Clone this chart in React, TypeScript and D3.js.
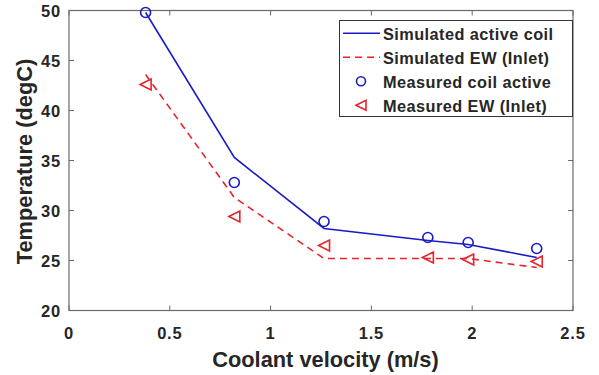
import React from "react";
import * as d3 from "d3";

const velocity = [0.38, 0.82, 1.265, 1.78, 1.98, 2.32];
const simActive = [49.8, 35.3, 28.2, 27.0, 26.6, 25.3];
const simEW = [43.6, 31.3, 25.2, 25.2, 25.2, 24.3];
const measCoil = [49.8, 32.8, 28.9, 27.3, 26.8, 26.2];
const measEW = [42.6, 29.4, 26.5, 25.3, 25.1, 24.9];
const xTicks = [0, 0.5, 1, 1.5, 2, 2.5];
const yTicks = [20, 25, 30, 35, 40, 45, 50];
const legendLabels = [
  "Simulated active coil",
  "Simulated EW (Inlet)",
  "Measured coil active",
  "Measured EW (Inlet)",
];

const W = 599;
const H = 375;
const BLUE = "#1a1ac8";
const RED = "#e8232b";
const AX = "#6a6a6a";
const TXT = "#262626";
const FONT = "'Liberation Sans', Arial, Helvetica, sans-serif";

export default function App() {
  const x = d3.scaleLinear().domain([0, 2.5]).range([69, 573]);
  const y = d3.scaleLinear().domain([20, 50]).range([310.5, 10.5]);
  const line = d3
    .line<[number, number]>()
    .x((d) => x(d[0]))
    .y((d) => y(d[1]));
  const zip = (a: number[]) => velocity.map((v, i) => [v, a[i]] as [number, number]);

  const tri = (cx: number, cy: number, s = 5.5) =>
    `M${cx - s},${cy} L${cx + s},${cy - s} L${cx + s},${cy + s} Z`;

  const [x0, x1] = x.range();
  const [yb, yt] = y.range();
  const tl = 5;

  const lgX = 339.5,
    lgY = 20.5,
    lgW = 233,
    lgH = 96;
  const rowH = 24;

  return (
    <svg
      width={W}
      height={H}
      style={{ position: "absolute", left: 0, top: 0, background: "#fff" }}
      fontFamily={FONT}
    >
      <rect width={W} height={H} fill="#fff" />
      {/* frame */}
      <rect x={x0} y={yt} width={x1 - x0} height={yb - yt} fill="none" stroke={AX} strokeWidth={1.2} />
      {xTicks.map((t) => (
        <g key={"xt" + t}>
          <line x1={x(t)} x2={x(t)} y1={yb} y2={yb - tl} stroke={AX} />
          <line x1={x(t)} x2={x(t)} y1={yt} y2={yt + tl} stroke={AX} />
          <text
            x={x(t)}
            y={338.5}
            textAnchor="middle"
            fontSize={16.5}
            letterSpacing={0.8}
            fontWeight="bold"
            fill={TXT}
          >
            {String(t)}
          </text>
        </g>
      ))}
      {yTicks.map((t) => (
        <g key={"yt" + t}>
          <line x1={x0} x2={x0 + tl} y1={y(t)} y2={y(t)} stroke={AX} />
          <line x1={x1} x2={x1 - tl} y1={y(t)} y2={y(t)} stroke={AX} />
          <text
            x={61}
            y={y(t) + 6.5}
            textAnchor="end"
            fontSize={16.5}
            letterSpacing={0.8}
            fontWeight="bold"
            fill={TXT}
          >
            {t}
          </text>
        </g>
      ))}
      <text x={325.5} y={367} textAnchor="middle" fontSize={21.8} fontWeight="bold" fill={TXT}>
        Coolant velocity (m/s)
      </text>
      <text
        transform={`translate(32,161.5) rotate(-90)`}
        textAnchor="middle"
        fontSize={21.8}
        fontWeight="bold"
        fill={TXT}
      >
        Temperature (degC)
      </text>

      {/* series */}
      <path d={line(zip(simActive)) || ""} fill="none" stroke={BLUE} strokeWidth={1.6} />
      <path
        d={line(zip(simEW)) || ""}
        fill="none"
        stroke={RED}
        strokeWidth={1.6}
        strokeDasharray="7,5"
      />
      {zip(measCoil).map((d, i) => (
        <circle key={"c" + i} cx={x(d[0])} cy={y(d[1])} r={5} fill="none" stroke={BLUE} strokeWidth={1.6} />
      ))}
      {zip(measEW).map((d, i) => (
        <path key={"t" + i} d={tri(x(d[0]), y(d[1]))} fill="none" stroke={RED} strokeWidth={1.6} />
      ))}

      {/* legend */}
      <rect x={lgX} y={lgY} width={lgW} height={lgH} fill="#fff" stroke="#333" strokeWidth={1} />
      {legendLabels.map((lab, i) => {
        const cy = lgY + 12.8 + i * rowH;
        return (
          <g key={"lg" + i}>
            {i === 0 && <line x1={343} x2={380} y1={cy} y2={cy} stroke={BLUE} strokeWidth={1.6} />}
            {i === 1 && (
              <line x1={343} x2={380} y1={cy} y2={cy} stroke={RED} strokeWidth={1.6} strokeDasharray="7,5" />
            )}
            {i === 2 && <circle cx={361} cy={cy} r={4.5} fill="none" stroke={BLUE} strokeWidth={1.6} />}
            {i === 3 && <path d={tri(361, cy, 5)} fill="none" stroke={RED} strokeWidth={1.6} />}
            <text x={383} y={cy + 6.5} fontSize={16.3} letterSpacing={0.45} fontWeight="bold" fill={TXT}>
              {lab}
            </text>
          </g>
        );
      })}
    </svg>
  );
}
